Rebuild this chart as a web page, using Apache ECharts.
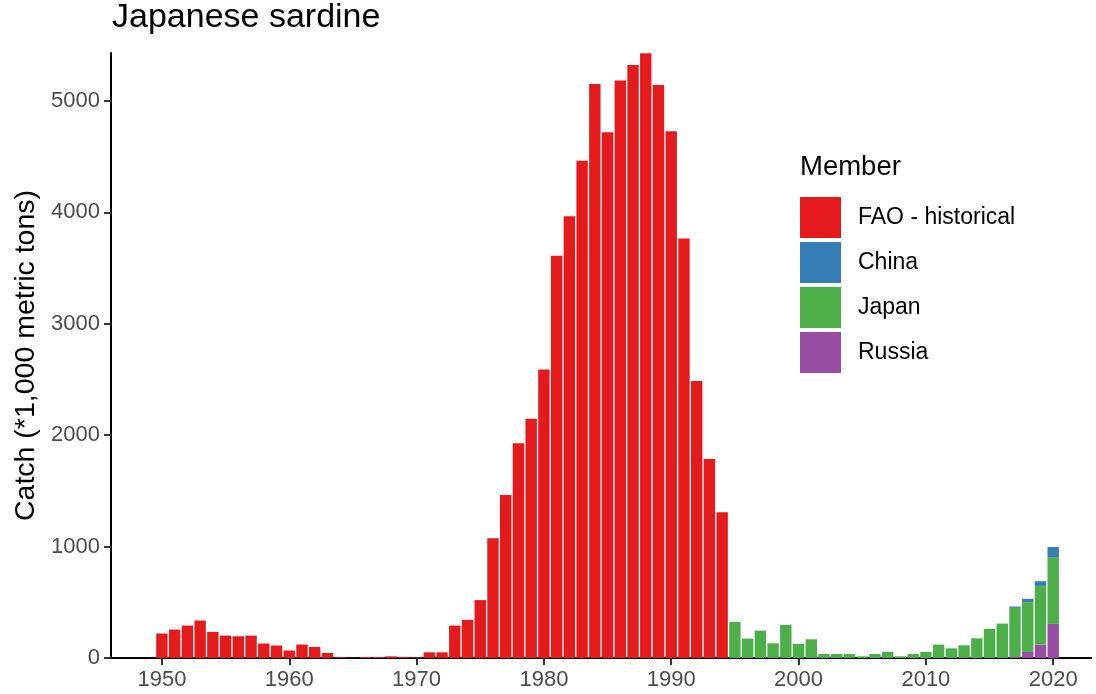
<!DOCTYPE html>
<html>
<head>
<meta charset="utf-8">
<script src="https://cdn.jsdelivr.net/npm/echarts@6/dist/echarts.min.js"></script>
<style>
html,body{margin:0;padding:0;background:#fff;}
#chart{width:1096px;height:694px;}
</style>
</head>
<body>
<div id="chart"></div>
<script>
// ---- data (thousand metric tons) ----
const faoYears = [1950,1951,1952,1953,1954,1955,1956,1957,1958,1959,1960,1961,1962,1963,1964,1965,1966,1967,1968,1969,1970,1971,1972,1973,1974,1975,1976,1977,1978,1979,1980,1981,1982,1983,1984,1985,1986,1987,1988,1989,1990,1991,1992,1993,1994];
const faoHistorical = [220,255,291,336,234,201,195,201,130,112,67,121,99,45,8,2,9,9,15,10,5,51,51,291,342,520,1074,1463,1928,2147,2590,3610,3964,4464,5151,4719,5184,5322,5427,5142,4728,3766,2486,1787,1308];
const japanYears = [1995,1996,1997,1998,1999,2000,2001,2002,2003,2004,2005,2006,2007,2008,2009,2010,2011,2012,2013,2014,2015,2016,2017,2018,2019,2020];
const japan = [324,174,246,132,297,126,168,36,36,36,15,36,54,15,36,54,120,87,114,177,261,309,441,447,527,600];
const memberYears = [2017,2018,2019,2020];
const china = [12,30,42,90];
const russia = [9,54,120,306];
const xTickYears = [1950,1960,1970,1980,1990,2000,2010,2020];
const yTicks = [0,1000,2000,3000,4000,5000];

// category axis of years spanning the visible range (axis edges fall on 1946 and 2023)
const axisYears = [];
for (let y = 1946; y <= 2023; y++) axisYears.push(String(y));
function aligned(years, vals){
  return axisYears.map(y => { const i = years.indexOf(+y); return i >= 0 ? vals[i] : null; });
}
const isTick = (idx, val) => xTickYears.indexOf(+val) >= 0;

const FONT = "'Liberation Sans', Arial, sans-serif";
const chart = echarts.init(document.getElementById('chart'), null, {renderer:'canvas'});
const barW = 11.4;
function bar(name, color, data){
  return {name, type:'bar', stack:'total', data, barWidth:barW, itemStyle:{color}, emphasis:{disabled:true}};
}
chart.setOption({
  animation:false,
  backgroundColor:'#ffffff',
  title:[
    {text:'Japanese sardine', left:112, top:1, padding:0,
     textStyle:{fontFamily:FONT, fontSize:34, fontWeight:'normal', color:'#000'}},
    {text:'Member', left:800, top:153, padding:0,
     textStyle:{fontFamily:FONT, fontSize:27.5, fontWeight:'normal', color:'#000'}}
  ],
  legend:{
    orient:'vertical', left:800, top:197, padding:0,
    itemWidth:41, itemHeight:41, itemGap:4, icon:'rect',
    data:['FAO - historical','China','Japan','Russia'],
    textStyle:{fontFamily:FONT, fontSize:23, color:'#000', padding:[0,0,0,12]}
  },
  grid:{left:111, right:4.6, top:53, bottom:36, containLabel:false},
  xAxis:{
    type:'category', data:axisYears, boundaryGap:false,
    axisLine:{show:true, onZero:false, lineStyle:{color:'#000', width:2}},
    axisTick:{show:true, length:7, interval:isTick, lineStyle:{color:'#333', width:2}},
    axisLabel:{interval:isTick, margin:11, fontFamily:FONT, fontSize:22, color:'#4d4d4d'},
    splitLine:{show:false}
  },
  yAxis:{
    type:'value', min:0, max:5430,
    name:'Catch (*1,000 metric tons)', nameLocation:'middle', nameRotate:90, nameGap:70,
    nameTextStyle:{fontFamily:FONT, fontSize:28.5, color:'#000'},
    axisLine:{show:true, lineStyle:{color:'#000', width:2}},
    axisTick:{show:true, length:7, lineStyle:{color:'#333', width:2}, customValues:yTicks},
    axisLabel:{customValues:yTicks, margin:11, fontFamily:FONT, fontSize:22, color:'#4d4d4d', formatter:v=>String(v)},
    splitLine:{show:false}
  },
  series:[
    bar('Russia', '#984EA3', aligned(memberYears, russia)),
    bar('Japan', '#4DAF4A', aligned(japanYears, japan)),
    bar('China', '#377EB8', aligned(memberYears, china)),
    bar('FAO - historical', '#E41A1C', aligned(faoYears, faoHistorical))
  ]
});
</script>
</body>
</html>
